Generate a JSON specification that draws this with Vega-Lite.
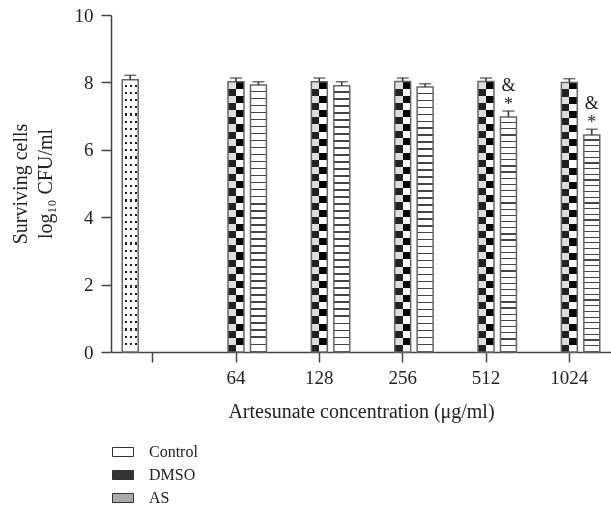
{
  "$schema": "https://vega.github.io/schema/vega-lite/v6.json",
  "width": 500,
  "height": 337,
  "autosize": {"type": "none"},
  "padding": {"left": 111, "top": 15, "right": 0, "bottom": 159},
  "background": "white",
  "config": {"view": {"stroke": null}, "font": "Liberation Serif"},
  "data": {"values": [
    {"conc": "ctrl", "group": "Control", "value": 8.08, "hi": 8.21},
    {"conc": "64", "group": "DMSO", "value": 8.02, "hi": 8.13},
    {"conc": "64", "group": "AS", "value": 7.92, "hi": 8.02},
    {"conc": "128", "group": "DMSO", "value": 8.02, "hi": 8.13},
    {"conc": "128", "group": "AS", "value": 7.90, "hi": 8.02},
    {"conc": "256", "group": "DMSO", "value": 8.03, "hi": 8.13},
    {"conc": "256", "group": "AS", "value": 7.86, "hi": 7.96},
    {"conc": "512", "group": "DMSO", "value": 8.03, "hi": 8.13},
    {"conc": "512", "group": "AS", "value": 6.97, "hi": 7.15, "star": "*", "amp": "&"},
    {"conc": "1024", "group": "DMSO", "value": 8.00, "hi": 8.11},
    {"conc": "1024", "group": "AS", "value": 6.44, "hi": 6.61, "star": "*", "amp": "&"}
  ]},
  "encoding": {
    "x": {
      "field": "conc", "type": "nominal", "sort": null,
      "scale": {"domain": ["ctrl", "64", "128", "256", "512", "1024"], "paddingInner": 0, "paddingOuter": 0},
      "axis": {
        "title": "Artesunate concentration (μg/ml)",
        "labelExpr": "datum.value === 'ctrl' ? '' : datum.label",
        "labelAngle": 0, "grid": false,
        "tickSize": 10, "tickColor": "#444", "tickWidth": 1.5,
        "domainColor": "#444", "domainWidth": 1.5,
        "labelFontSize": 19, "labelPadding": 6, "labelColor": "#222",
        "titleFontSize": 20, "titlePadding": 14, "titleColor": "#222", "titleFontWeight": "normal"
      }
    },
    "xOffset": {
      "field": "group", "type": "nominal",
      "scale": {"domain": ["Control", "DMSO", "AS"], "paddingInner": 0.29, "paddingOuter": 0.5}
    },
    "y": {
      "field": "value", "type": "quantitative",
      "scale": {"domain": [0, 10], "nice": false},
      "axis": {
        "title": ["Surviving cells", "log₁₀ CFU/ml"],
        "values": [0, 2, 4, 6, 8, 10], "grid": false,
        "tickSize": 10, "tickColor": "#444", "tickWidth": 1.5,
        "domainColor": "#444", "domainWidth": 1.5,
        "labelFontSize": 19, "labelPadding": 8, "labelColor": "#222",
        "titleFontSize": 20, "titlePadding": 19, "titleColor": "#222", "titleFontWeight": "normal", "titleLineHeight": 25
      }
    }
  },
  "layer": [
    {
      "transform": [{"filter": "datum.group === 'Control'"}],
      "mark": {"type": "bar", "fill": {"gradient": "linear", "x1": 0, "y1": 0, "x2": 1, "y2": 0, "stops": [
        {"offset": 0, "color": "#fff"}, {"offset": 0.19, "color": "#fff"}, {"offset": 0.19, "color": "#222"}, {"offset": 0.31, "color": "#222"},
        {"offset": 0.31, "color": "#fff"}, {"offset": 0.5, "color": "#fff"}, {"offset": 0.5, "color": "#222"}, {"offset": 0.62, "color": "#222"},
        {"offset": 0.62, "color": "#fff"}, {"offset": 0.8, "color": "#fff"}, {"offset": 0.8, "color": "#222"}, {"offset": 0.92, "color": "#222"},
        {"offset": 0.92, "color": "#fff"}, {"offset": 1, "color": "#fff"}]}}
    },
    {
      "transform": [{"filter": "datum.group === 'Control'"}],
      "mark": {"type": "bar", "blend": "lighten", "fill": {"gradient": "linear", "x1": 0, "y1": 0, "x2": 0, "y2": 1, "stops": [
        {"offset": 0, "color": "#fff"}, {"offset": 0.0184, "color": "#fff"}, {"offset": 0.0184, "color": "#222"}, {"offset": 0.0263, "color": "#222"},
        {"offset": 0.0263, "color": "#fff"}, {"offset": 0.0447, "color": "#fff"}, {"offset": 0.0447, "color": "#222"}, {"offset": 0.0526, "color": "#222"},
        {"offset": 0.0526, "color": "#fff"}, {"offset": 0.0710, "color": "#fff"}, {"offset": 0.0710, "color": "#222"}, {"offset": 0.0789, "color": "#222"},
        {"offset": 0.0789, "color": "#fff"}, {"offset": 0.0973, "color": "#fff"}, {"offset": 0.0973, "color": "#222"}, {"offset": 0.1053, "color": "#222"},
        {"offset": 0.1053, "color": "#fff"}, {"offset": 0.1237, "color": "#fff"}, {"offset": 0.1237, "color": "#222"}, {"offset": 0.1316, "color": "#222"},
        {"offset": 0.1316, "color": "#fff"}, {"offset": 0.1500, "color": "#fff"}, {"offset": 0.1500, "color": "#222"}, {"offset": 0.1579, "color": "#222"},
        {"offset": 0.1579, "color": "#fff"}, {"offset": 0.1763, "color": "#fff"}, {"offset": 0.1763, "color": "#222"}, {"offset": 0.1842, "color": "#222"},
        {"offset": 0.1842, "color": "#fff"}, {"offset": 0.2026, "color": "#fff"}, {"offset": 0.2026, "color": "#222"}, {"offset": 0.2105, "color": "#222"},
        {"offset": 0.2105, "color": "#fff"}, {"offset": 0.2289, "color": "#fff"}, {"offset": 0.2289, "color": "#222"}, {"offset": 0.2368, "color": "#222"},
        {"offset": 0.2368, "color": "#fff"}, {"offset": 0.2552, "color": "#fff"}, {"offset": 0.2552, "color": "#222"}, {"offset": 0.2632, "color": "#222"},
        {"offset": 0.2632, "color": "#fff"}, {"offset": 0.2816, "color": "#fff"}, {"offset": 0.2816, "color": "#222"}, {"offset": 0.2895, "color": "#222"},
        {"offset": 0.2895, "color": "#fff"}, {"offset": 0.3079, "color": "#fff"}, {"offset": 0.3079, "color": "#222"}, {"offset": 0.3158, "color": "#222"},
        {"offset": 0.3158, "color": "#fff"}, {"offset": 0.3342, "color": "#fff"}, {"offset": 0.3342, "color": "#222"}, {"offset": 0.3421, "color": "#222"},
        {"offset": 0.3421, "color": "#fff"}, {"offset": 0.3605, "color": "#fff"}, {"offset": 0.3605, "color": "#222"}, {"offset": 0.3684, "color": "#222"},
        {"offset": 0.3684, "color": "#fff"}, {"offset": 0.3868, "color": "#fff"}, {"offset": 0.3868, "color": "#222"}, {"offset": 0.3947, "color": "#222"},
        {"offset": 0.3947, "color": "#fff"}, {"offset": 0.4131, "color": "#fff"}, {"offset": 0.4131, "color": "#222"}, {"offset": 0.4211, "color": "#222"},
        {"offset": 0.4211, "color": "#fff"}, {"offset": 0.4395, "color": "#fff"}, {"offset": 0.4395, "color": "#222"}, {"offset": 0.4474, "color": "#222"},
        {"offset": 0.4474, "color": "#fff"}, {"offset": 0.4658, "color": "#fff"}, {"offset": 0.4658, "color": "#222"}, {"offset": 0.4737, "color": "#222"},
        {"offset": 0.4737, "color": "#fff"}, {"offset": 0.4921, "color": "#fff"}, {"offset": 0.4921, "color": "#222"}, {"offset": 0.5000, "color": "#222"},
        {"offset": 0.5000, "color": "#fff"}, {"offset": 0.5184, "color": "#fff"}, {"offset": 0.5184, "color": "#222"}, {"offset": 0.5263, "color": "#222"},
        {"offset": 0.5263, "color": "#fff"}, {"offset": 0.5447, "color": "#fff"}, {"offset": 0.5447, "color": "#222"}, {"offset": 0.5526, "color": "#222"},
        {"offset": 0.5526, "color": "#fff"}, {"offset": 0.5710, "color": "#fff"}, {"offset": 0.5710, "color": "#222"}, {"offset": 0.5789, "color": "#222"},
        {"offset": 0.5789, "color": "#fff"}, {"offset": 0.5973, "color": "#fff"}, {"offset": 0.5973, "color": "#222"}, {"offset": 0.6053, "color": "#222"},
        {"offset": 0.6053, "color": "#fff"}, {"offset": 0.6237, "color": "#fff"}, {"offset": 0.6237, "color": "#222"}, {"offset": 0.6316, "color": "#222"},
        {"offset": 0.6316, "color": "#fff"}, {"offset": 0.6500, "color": "#fff"}, {"offset": 0.6500, "color": "#222"}, {"offset": 0.6579, "color": "#222"},
        {"offset": 0.6579, "color": "#fff"}, {"offset": 0.6763, "color": "#fff"}, {"offset": 0.6763, "color": "#222"}, {"offset": 0.6842, "color": "#222"},
        {"offset": 0.6842, "color": "#fff"}, {"offset": 0.7026, "color": "#fff"}, {"offset": 0.7026, "color": "#222"}, {"offset": 0.7105, "color": "#222"},
        {"offset": 0.7105, "color": "#fff"}, {"offset": 0.7289, "color": "#fff"}, {"offset": 0.7289, "color": "#222"}, {"offset": 0.7368, "color": "#222"},
        {"offset": 0.7368, "color": "#fff"}, {"offset": 0.7552, "color": "#fff"}, {"offset": 0.7552, "color": "#222"}, {"offset": 0.7632, "color": "#222"},
        {"offset": 0.7632, "color": "#fff"}, {"offset": 0.7816, "color": "#fff"}, {"offset": 0.7816, "color": "#222"}, {"offset": 0.7895, "color": "#222"},
        {"offset": 0.7895, "color": "#fff"}, {"offset": 0.8079, "color": "#fff"}, {"offset": 0.8079, "color": "#222"}, {"offset": 0.8158, "color": "#222"},
        {"offset": 0.8158, "color": "#fff"}, {"offset": 0.8342, "color": "#fff"}, {"offset": 0.8342, "color": "#222"}, {"offset": 0.8421, "color": "#222"},
        {"offset": 0.8421, "color": "#fff"}, {"offset": 0.8605, "color": "#fff"}, {"offset": 0.8605, "color": "#222"}, {"offset": 0.8684, "color": "#222"},
        {"offset": 0.8684, "color": "#fff"}, {"offset": 0.8868, "color": "#fff"}, {"offset": 0.8868, "color": "#222"}, {"offset": 0.8947, "color": "#222"},
        {"offset": 0.8947, "color": "#fff"}, {"offset": 0.9131, "color": "#fff"}, {"offset": 0.9131, "color": "#222"}, {"offset": 0.9211, "color": "#222"},
        {"offset": 0.9211, "color": "#fff"}, {"offset": 0.9395, "color": "#fff"}, {"offset": 0.9395, "color": "#222"}, {"offset": 0.9474, "color": "#222"},
        {"offset": 0.9474, "color": "#fff"}, {"offset": 0.9658, "color": "#fff"}, {"offset": 0.9658, "color": "#222"}, {"offset": 0.9737, "color": "#222"},
        {"offset": 0.9737, "color": "#fff"}, {"offset": 1, "color": "#fff"}]}}
    },
    {
      "transform": [{"filter": "datum.group === 'DMSO'"}],
      "mark": {"type": "bar", "fill": {"gradient": "linear", "x1": 0, "y1": 0, "x2": 1, "y2": 0, "stops": [
        {"offset": 0, "color": "#222"}, {"offset": 0.5, "color": "#222"}, {"offset": 0.5, "color": "#fff"}, {"offset": 1, "color": "#fff"}]}}
    },
    {
      "transform": [{"filter": "datum.group === 'DMSO'"}],
      "mark": {"type": "bar", "blend": "difference", "fill": {"gradient": "linear", "x1": 0, "y1": 0, "x2": 0, "y2": 1, "stops": [
        {"offset": 0, "color": "#fff"}, {"offset": 0.0263, "color": "#fff"}, {"offset": 0.0263, "color": "#000"}, {"offset": 0.0526, "color": "#000"},
        {"offset": 0.0526, "color": "#fff"}, {"offset": 0.0789, "color": "#fff"}, {"offset": 0.0789, "color": "#000"}, {"offset": 0.1053, "color": "#000"},
        {"offset": 0.1053, "color": "#fff"}, {"offset": 0.1316, "color": "#fff"}, {"offset": 0.1316, "color": "#000"}, {"offset": 0.1579, "color": "#000"},
        {"offset": 0.1579, "color": "#fff"}, {"offset": 0.1842, "color": "#fff"}, {"offset": 0.1842, "color": "#000"}, {"offset": 0.2105, "color": "#000"},
        {"offset": 0.2105, "color": "#fff"}, {"offset": 0.2368, "color": "#fff"}, {"offset": 0.2368, "color": "#000"}, {"offset": 0.2632, "color": "#000"},
        {"offset": 0.2632, "color": "#fff"}, {"offset": 0.2895, "color": "#fff"}, {"offset": 0.2895, "color": "#000"}, {"offset": 0.3158, "color": "#000"},
        {"offset": 0.3158, "color": "#fff"}, {"offset": 0.3421, "color": "#fff"}, {"offset": 0.3421, "color": "#000"}, {"offset": 0.3684, "color": "#000"},
        {"offset": 0.3684, "color": "#fff"}, {"offset": 0.3947, "color": "#fff"}, {"offset": 0.3947, "color": "#000"}, {"offset": 0.4211, "color": "#000"},
        {"offset": 0.4211, "color": "#fff"}, {"offset": 0.4474, "color": "#fff"}, {"offset": 0.4474, "color": "#000"}, {"offset": 0.4737, "color": "#000"},
        {"offset": 0.4737, "color": "#fff"}, {"offset": 0.5000, "color": "#fff"}, {"offset": 0.5000, "color": "#000"}, {"offset": 0.5263, "color": "#000"},
        {"offset": 0.5263, "color": "#fff"}, {"offset": 0.5526, "color": "#fff"}, {"offset": 0.5526, "color": "#000"}, {"offset": 0.5789, "color": "#000"},
        {"offset": 0.5789, "color": "#fff"}, {"offset": 0.6053, "color": "#fff"}, {"offset": 0.6053, "color": "#000"}, {"offset": 0.6316, "color": "#000"},
        {"offset": 0.6316, "color": "#fff"}, {"offset": 0.6579, "color": "#fff"}, {"offset": 0.6579, "color": "#000"}, {"offset": 0.6842, "color": "#000"},
        {"offset": 0.6842, "color": "#fff"}, {"offset": 0.7105, "color": "#fff"}, {"offset": 0.7105, "color": "#000"}, {"offset": 0.7368, "color": "#000"},
        {"offset": 0.7368, "color": "#fff"}, {"offset": 0.7632, "color": "#fff"}, {"offset": 0.7632, "color": "#000"}, {"offset": 0.7895, "color": "#000"},
        {"offset": 0.7895, "color": "#fff"}, {"offset": 0.8158, "color": "#fff"}, {"offset": 0.8158, "color": "#000"}, {"offset": 0.8421, "color": "#000"},
        {"offset": 0.8421, "color": "#fff"}, {"offset": 0.8684, "color": "#fff"}, {"offset": 0.8684, "color": "#000"}, {"offset": 0.8947, "color": "#000"},
        {"offset": 0.8947, "color": "#fff"}, {"offset": 0.9211, "color": "#fff"}, {"offset": 0.9211, "color": "#000"}, {"offset": 0.9474, "color": "#000"},
        {"offset": 0.9474, "color": "#fff"}, {"offset": 0.9737, "color": "#fff"}, {"offset": 0.9737, "color": "#000"}, {"offset": 1, "color": "#000"}]}}
    },
    {
      "transform": [{"filter": "datum.group === 'AS'"}],
      "mark": {"type": "bar", "fill": {"gradient": "linear", "x1": 0, "y1": 0, "x2": 0, "y2": 1, "stops": [
        {"offset": 0, "color": "#fff"}, {"offset": 0.0208, "color": "#fff"}, {"offset": 0.0208, "color": "#444"}, {"offset": 0.0263, "color": "#444"},
        {"offset": 0.0263, "color": "#fff"}, {"offset": 0.0471, "color": "#fff"}, {"offset": 0.0471, "color": "#444"}, {"offset": 0.0526, "color": "#444"},
        {"offset": 0.0526, "color": "#fff"}, {"offset": 0.0734, "color": "#fff"}, {"offset": 0.0734, "color": "#444"}, {"offset": 0.0789, "color": "#444"},
        {"offset": 0.0789, "color": "#fff"}, {"offset": 0.0998, "color": "#fff"}, {"offset": 0.0998, "color": "#444"}, {"offset": 0.1053, "color": "#444"},
        {"offset": 0.1053, "color": "#fff"}, {"offset": 0.1261, "color": "#fff"}, {"offset": 0.1261, "color": "#444"}, {"offset": 0.1316, "color": "#444"},
        {"offset": 0.1316, "color": "#fff"}, {"offset": 0.1524, "color": "#fff"}, {"offset": 0.1524, "color": "#444"}, {"offset": 0.1579, "color": "#444"},
        {"offset": 0.1579, "color": "#fff"}, {"offset": 0.1787, "color": "#fff"}, {"offset": 0.1787, "color": "#444"}, {"offset": 0.1842, "color": "#444"},
        {"offset": 0.1842, "color": "#fff"}, {"offset": 0.2050, "color": "#fff"}, {"offset": 0.2050, "color": "#444"}, {"offset": 0.2105, "color": "#444"},
        {"offset": 0.2105, "color": "#fff"}, {"offset": 0.2313, "color": "#fff"}, {"offset": 0.2313, "color": "#444"}, {"offset": 0.2368, "color": "#444"},
        {"offset": 0.2368, "color": "#fff"}, {"offset": 0.2577, "color": "#fff"}, {"offset": 0.2577, "color": "#444"}, {"offset": 0.2632, "color": "#444"},
        {"offset": 0.2632, "color": "#fff"}, {"offset": 0.2840, "color": "#fff"}, {"offset": 0.2840, "color": "#444"}, {"offset": 0.2895, "color": "#444"},
        {"offset": 0.2895, "color": "#fff"}, {"offset": 0.3103, "color": "#fff"}, {"offset": 0.3103, "color": "#444"}, {"offset": 0.3158, "color": "#444"},
        {"offset": 0.3158, "color": "#fff"}, {"offset": 0.3366, "color": "#fff"}, {"offset": 0.3366, "color": "#444"}, {"offset": 0.3421, "color": "#444"},
        {"offset": 0.3421, "color": "#fff"}, {"offset": 0.3629, "color": "#fff"}, {"offset": 0.3629, "color": "#444"}, {"offset": 0.3684, "color": "#444"},
        {"offset": 0.3684, "color": "#fff"}, {"offset": 0.3892, "color": "#fff"}, {"offset": 0.3892, "color": "#444"}, {"offset": 0.3947, "color": "#444"},
        {"offset": 0.3947, "color": "#fff"}, {"offset": 0.4156, "color": "#fff"}, {"offset": 0.4156, "color": "#444"}, {"offset": 0.4211, "color": "#444"},
        {"offset": 0.4211, "color": "#fff"}, {"offset": 0.4419, "color": "#fff"}, {"offset": 0.4419, "color": "#444"}, {"offset": 0.4474, "color": "#444"},
        {"offset": 0.4474, "color": "#fff"}, {"offset": 0.4682, "color": "#fff"}, {"offset": 0.4682, "color": "#444"}, {"offset": 0.4737, "color": "#444"},
        {"offset": 0.4737, "color": "#fff"}, {"offset": 0.4945, "color": "#fff"}, {"offset": 0.4945, "color": "#444"}, {"offset": 0.5000, "color": "#444"},
        {"offset": 0.5000, "color": "#fff"}, {"offset": 0.5208, "color": "#fff"}, {"offset": 0.5208, "color": "#444"}, {"offset": 0.5263, "color": "#444"},
        {"offset": 0.5263, "color": "#fff"}, {"offset": 0.5471, "color": "#fff"}, {"offset": 0.5471, "color": "#444"}, {"offset": 0.5526, "color": "#444"},
        {"offset": 0.5526, "color": "#fff"}, {"offset": 0.5734, "color": "#fff"}, {"offset": 0.5734, "color": "#444"}, {"offset": 0.5789, "color": "#444"},
        {"offset": 0.5789, "color": "#fff"}, {"offset": 0.5998, "color": "#fff"}, {"offset": 0.5998, "color": "#444"}, {"offset": 0.6053, "color": "#444"},
        {"offset": 0.6053, "color": "#fff"}, {"offset": 0.6261, "color": "#fff"}, {"offset": 0.6261, "color": "#444"}, {"offset": 0.6316, "color": "#444"},
        {"offset": 0.6316, "color": "#fff"}, {"offset": 0.6524, "color": "#fff"}, {"offset": 0.6524, "color": "#444"}, {"offset": 0.6579, "color": "#444"},
        {"offset": 0.6579, "color": "#fff"}, {"offset": 0.6787, "color": "#fff"}, {"offset": 0.6787, "color": "#444"}, {"offset": 0.6842, "color": "#444"},
        {"offset": 0.6842, "color": "#fff"}, {"offset": 0.7050, "color": "#fff"}, {"offset": 0.7050, "color": "#444"}, {"offset": 0.7105, "color": "#444"},
        {"offset": 0.7105, "color": "#fff"}, {"offset": 0.7313, "color": "#fff"}, {"offset": 0.7313, "color": "#444"}, {"offset": 0.7368, "color": "#444"},
        {"offset": 0.7368, "color": "#fff"}, {"offset": 0.7577, "color": "#fff"}, {"offset": 0.7577, "color": "#444"}, {"offset": 0.7632, "color": "#444"},
        {"offset": 0.7632, "color": "#fff"}, {"offset": 0.7840, "color": "#fff"}, {"offset": 0.7840, "color": "#444"}, {"offset": 0.7895, "color": "#444"},
        {"offset": 0.7895, "color": "#fff"}, {"offset": 0.8103, "color": "#fff"}, {"offset": 0.8103, "color": "#444"}, {"offset": 0.8158, "color": "#444"},
        {"offset": 0.8158, "color": "#fff"}, {"offset": 0.8366, "color": "#fff"}, {"offset": 0.8366, "color": "#444"}, {"offset": 0.8421, "color": "#444"},
        {"offset": 0.8421, "color": "#fff"}, {"offset": 0.8629, "color": "#fff"}, {"offset": 0.8629, "color": "#444"}, {"offset": 0.8684, "color": "#444"},
        {"offset": 0.8684, "color": "#fff"}, {"offset": 0.8892, "color": "#fff"}, {"offset": 0.8892, "color": "#444"}, {"offset": 0.8947, "color": "#444"},
        {"offset": 0.8947, "color": "#fff"}, {"offset": 0.9156, "color": "#fff"}, {"offset": 0.9156, "color": "#444"}, {"offset": 0.9211, "color": "#444"},
        {"offset": 0.9211, "color": "#fff"}, {"offset": 0.9419, "color": "#fff"}, {"offset": 0.9419, "color": "#444"}, {"offset": 0.9474, "color": "#444"},
        {"offset": 0.9474, "color": "#fff"}, {"offset": 0.9682, "color": "#fff"}, {"offset": 0.9682, "color": "#444"}, {"offset": 0.9737, "color": "#444"},
        {"offset": 0.9737, "color": "#fff"}, {"offset": 0.9945, "color": "#fff"}, {"offset": 0.9945, "color": "#444"}, {"offset": 1, "color": "#444"}]}}
    },
    {
      "mark": {"type": "bar", "fillOpacity": 0, "stroke": "#666", "strokeWidth": 1.5},
      "encoding": {
        "fill": {
          "field": "group", "type": "nominal",
          "scale": {"domain": ["Control", "DMSO", "AS"], "range": ["#ffffff", "#333333", "#aaaaaa"]},
          "legend": {
            "title": null, "orient": "none", "legendX": 1, "legendY": 426, "padding": 0,
            "symbolType": "M-1,-0.43H1V0.43H-1Z", "symbolSize": 441,
            "symbolStrokeColor": "#333", "symbolStrokeWidth": 1,
            "labelFont": "Liberation Serif", "labelFontSize": 16, "labelColor": "#222",
            "labelOffset": 15, "rowPadding": 4,
            "encode": {"symbols": {"update": {"fillOpacity": {"value": 1}, "opacity": {"value": 1}}}}
          }
        }
      }
    },
    {
      "mark": {"type": "rule", "color": "#333", "strokeWidth": 1.5},
      "encoding": {"y2": {"field": "hi"}}
    },
    {
      "mark": {"type": "tick", "color": "#333", "size": 12, "thickness": 1.5, "orient": "horizontal"},
      "encoding": {"y": {"field": "hi", "type": "quantitative", "title": ["Surviving cells", "log₁₀ CFU/ml"]}}
    },
    {
      "transform": [{"filter": "datum.star"}],
      "mark": {"type": "text", "fontSize": 18, "baseline": "alphabetic", "dy": -1, "color": "#222", "font": "Liberation Serif"},
      "encoding": {"y": {"field": "hi", "type": "quantitative", "title": ["Surviving cells", "log₁₀ CFU/ml"]}, "text": {"field": "star"}}
    },
    {
      "transform": [{"filter": "datum.amp"}],
      "mark": {"type": "text", "fontSize": 18, "baseline": "alphabetic", "dy": -20, "color": "#222", "font": "Liberation Serif"},
      "encoding": {"y": {"field": "hi", "type": "quantitative", "title": ["Surviving cells", "log₁₀ CFU/ml"]}, "text": {"field": "amp"}}
    }
  ]
}
